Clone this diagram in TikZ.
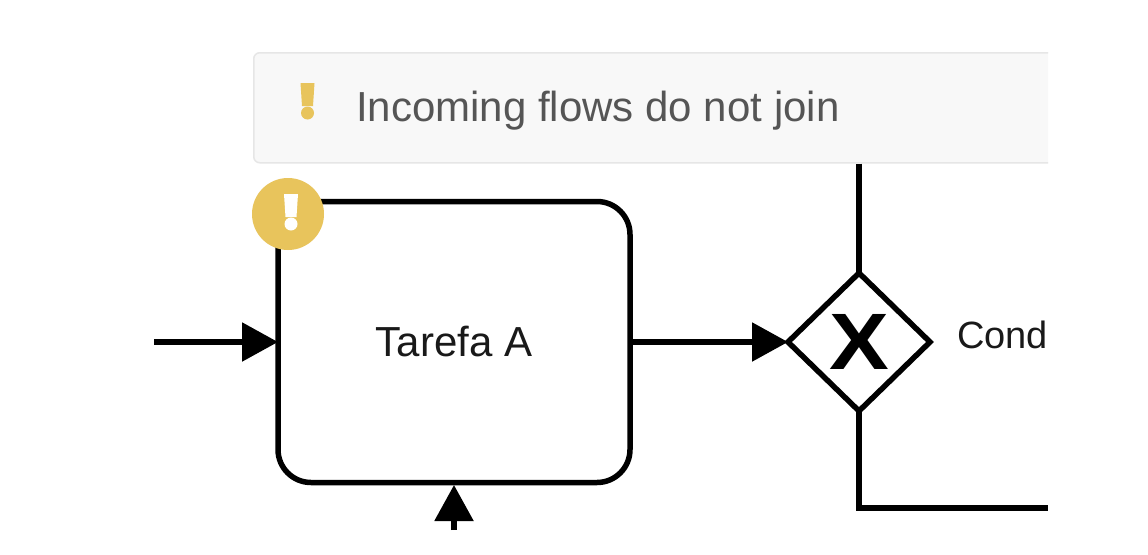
\documentclass[tikz,border=0pt]{standalone}
\usepackage{fontspec}
\setmainfont{Liberation Sans}
\usetikzlibrary{positioning,shapes.geometric,arrows.meta}
\definecolor{warnyellow}{HTML}{E8C45C}
\definecolor{bannerfill}{HTML}{F8F8F8}
\definecolor{bannerline}{HTML}{E6E6E6}
\definecolor{bannertext}{HTML}{555555}
\tikzset{
	flow/.style={line width=5.5pt, draw=black},
	seqflow/.style={flow, -{Triangle[length=36pt,width=38pt]}},
	bigtext/.style={font=\fontsize{#1}{#1}\selectfont, inner sep=0pt, text=black!90},
	bang/.style={fill=#1, draw=none}
}
\newcommand{\bangmark}[3]{%
	\fill[bang=#3] (#1-7,#2-15) -- (#1+7,#2-15) -- (#1+5.5,#2+8) -- (#1-5.5,#2+8) -- cycle;
	\fill[bang=#3] (#1,#2+15) circle (6.5);
}
\begin{document}
\begin{tikzpicture}[x=1pt,y=-1pt]
	\useasboundingbox (0,0) rectangle (1148,554);
	\fill[white] (0,0) rectangle (1148,554);
	\begin{scope}
		\clip (0,0) rectangle (1048,554);
		\node[draw=bannerline, fill=bannerfill, line width=1.5pt, rounded corners=6pt, minimum width=900pt, minimum height=110pt, inner sep=0pt, anchor=north west] (banner) at (253,52) {};
		\node[bigtext=42, text=bannertext, anchor=west] (message) at (356,111) {Incoming flows do not join};
		\bangmark{307.5}{98}{warnyellow}

		\node[draw, line width=5.5pt, outer sep=0pt, rounded corners=33pt, minimum width=352pt, minimum height=281pt, inner sep=0pt, bigtext=42] (tarefaa) at (454,342) {Tarefa A};
		\node[draw, diamond, line width=5.5pt, outer sep=0pt, minimum width=142pt, minimum height=138pt, inner sep=0pt, right=158pt of tarefaa] (gateway) {};
		\node[xscale=1.12, inner sep=0pt, font=\fontsize{80}{80}\bfseries\selectfont] (xmark) at (gateway) {X};
		\node[bigtext=38, right=27pt of gateway, yshift=7pt] (cond) {Cond};

		\node[circle, fill=warnyellow, minimum size=72pt, inner sep=0pt] (badge) at (288,214) {};
		\bangmark{291}{209}{white}

		\coordinate (flowin) at (154,342);
		\coordinate (flowup) at (454,530);
		\coordinate (corner) at (gateway |- 0,508);
		\coordinate (flowout) at (1048,508);

		\draw[seqflow] (flowin) -- (tarefaa.west);
		\draw[seqflow, shorten >=2.5pt] (flowup) -- (tarefaa.south);
		\draw[seqflow] (tarefaa) -- (gateway);
		\draw[flow] (banner.south -| gateway) -- (gateway.north);
		\draw[flow] (gateway.south) -- (corner) -- (flowout);
	\end{scope}
\end{tikzpicture}
\end{document}
